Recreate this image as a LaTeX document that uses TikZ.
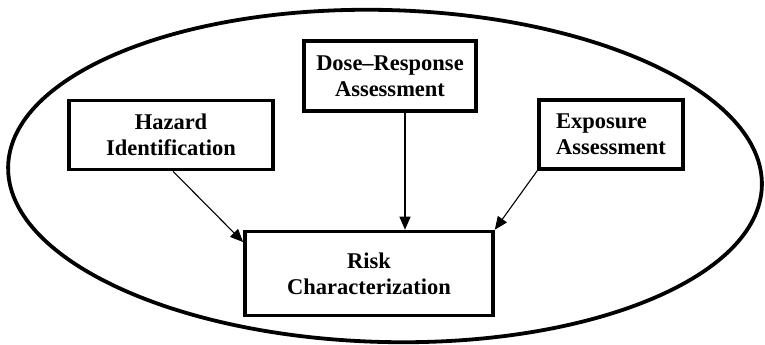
\documentclass[tikz,border=0pt]{standalone}
\usepackage{fontspec}
\setmainfont{Liberation Serif}
\usetikzlibrary{arrows.meta,calc}
\begin{document}
\begin{tikzpicture}[x=1pt,y=-1pt,
  box/.style={draw, line width=3.6pt, inner sep=0pt, align=center,
    font=\fontsize{22.5}{26}\selectfont\bfseries},
  conn/.style={line width=1.1pt, -{Triangle[length=13pt,width=11pt]}},
  outer/.style={draw, line width=3.8pt}]
\useasboundingbox (0,0) rectangle (765,345);
\draw[outer, rotate around={-1.5:(385,176)}] (385,176) ellipse [x radius=377, y radius=166];
\node[box, minimum width=204pt, minimum height=69pt] (haz) at (171,135) {Hazard\\Identification};
\node[box, minimum width=172pt, minimum height=70pt] (dose) at (390,76) {Dose–Response\\Assessment};
\node[box, minimum width=144pt, minimum height=69pt, align=left] (exp) at (611,134.5) {Exposure\\Assessment};
\node[box, minimum width=248pt, minimum height=84pt] (risk) at (369,273.5) {Risk\\Characterization};
\coordinate (hstart) at ($(haz.south)+(2,0)$);
\coordinate (dstart) at ($(dose.south)+(15,0)$);
\draw[conn] (hstart) -- (risk.166);
\draw[conn] (dstart) -- (dstart |- risk.north);
\draw[conn] (exp.south west) -- (risk.north east);
\end{tikzpicture}
\end{document}
